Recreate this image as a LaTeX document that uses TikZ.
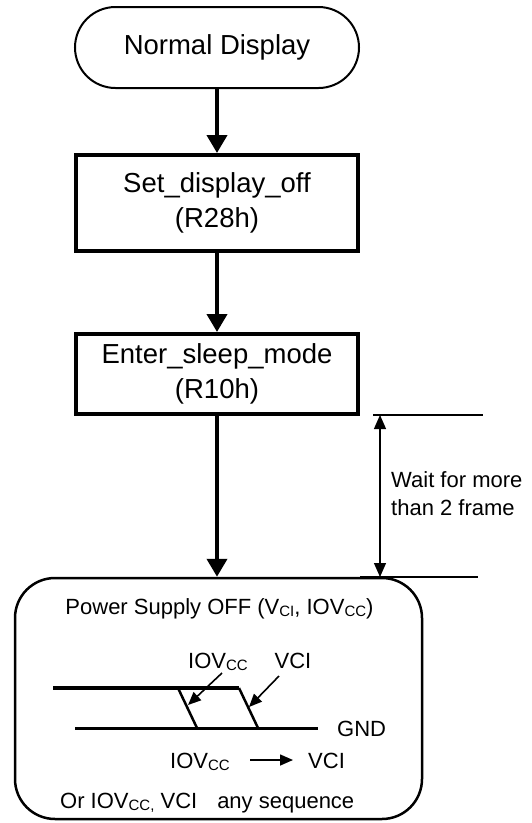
\documentclass[tikz,border=0pt]{standalone}
\usepackage{fontspec}
\setmainfont{Liberation Sans}
\usetikzlibrary{arrows.meta}
\newcommand{\subsc}[1]{\raisebox{-0.25ex}{\fontsize{15}{15}\selectfont #1}}
\begin{document}
\begin{tikzpicture}[x=1pt,y=-1pt,
  big/.style={font=\fontsize{27.5}{35}\selectfont},
  small/.style={font=\fontsize{22}{28}\selectfont},
  term/.style={draw,line width=2pt,rounded corners=40.5pt,minimum width=284pt,minimum height=81pt,inner sep=0pt,big},
  procbox/.style={draw,line width=4pt,minimum width=282pt,inner sep=0pt,align=center,big},
  psbox/.style={draw,line width=2.5pt,rounded corners=40pt,minimum width=407pt,minimum height=241pt,inner sep=0pt},
  flow/.style={line width=4pt,-{Triangle[width=20pt,length=18pt]}},
  dimln/.style={line width=1.2pt},
  dimarr/.style={line width=1.2pt,{Triangle[width=12pt,length=14pt]}-{Triangle[width=12pt,length=14pt]}},
  ptr/.style={line width=1.6pt,-{Triangle[width=11pt,length=13pt]}},
  lbl/.style={inner sep=0pt,small},
  wavehi/.style={line width=3.3pt},
  wavegnd/.style={line width=3pt},
  waveedge/.style={line width=2.5pt},
]
\useasboundingbox (0,0) rectangle (531,823);

% flow nodes
\node[term] (nd) at (217,47.5) {Normal Display};
\node[procbox,minimum height=96pt] (b1) at (217,203) {Set\_display\_off\\(R28h)};
\node[procbox,minimum height=80pt] (b2) at (217,374) {Enter\_sleep\_mode\\(R10h)};
\node[psbox] (ps) at (218.5,698.5) {};

\draw[flow] (nd.south) -- (b1.north);
\draw[flow] (b1.south) -- (b2.north);
\draw[flow] (b2.south) -- (b2.south |- ps.north);

% dimension
\coordinate (dtl) at (373,415);
\coordinate (dtr) at (483,415);
\coordinate (dbl) at (360,577);
\coordinate (dbr) at (478,577);
\coordinate (dtop) at (380,415);
\coordinate (dbot) at (380,577);
\draw[dimln] (dtl) -- (dtr);
\draw[dimln] (dbl) -- (dbr);
\draw[dimarr] (dtop) -- (dbot);
\node[lbl,anchor=west,align=left] (wait) at (391,494) {Wait for more\\than 2 frame};

% inside power supply box
\node[lbl,anchor=base] (pstitle) at (219.5,614) {Power Supply OFF (V\subsc{CI}, IOV\subsc{CC})};
\node[lbl,anchor=base] (iovlbl) at (218,668) {IOV\subsc{CC}};
\node[lbl,anchor=base] (vcilbl) at (293,668) {VCI};

\coordinate (hiL) at (53,688);
\coordinate (hiR) at (239,688);
\coordinate (hiM) at (178,688);
\coordinate (loR) at (258,728);
\coordinate (loM) at (197,728);
\coordinate (gL) at (75,728);
\coordinate (gR) at (318,728);
\draw[wavehi] (hiL) -- (hiR);
\draw[waveedge] (hiR) -- (loR);
\draw[waveedge] (hiM) -- (loM);
\draw[wavegnd] (gL) -- (gR);
\node[lbl,anchor=base west] (gnd) at (337,736) {GND};

\coordinate (p1s) at (222,673);
\coordinate (p1e) at (188,705);
\coordinate (p2s) at (279,676);
\coordinate (p2e) at (249,707);
\draw[ptr] (p1s) -- (p1e);
\draw[ptr] (p2s) -- (p2e);

\node[lbl,anchor=base west] (seqa) at (170,768) {IOV\subsc{CC}};
\node[lbl,anchor=base west] (seqb) at (308,768) {VCI};
\coordinate (sqs) at (250,760);
\coordinate (sqe) at (293,760);
\draw[ptr] (sqs) -- (sqe);

\node[lbl,anchor=base west] (anyseq) at (60,808) {Or IOV\subsc{CC,} VCI\hspace{20pt}any sequence};
\end{tikzpicture}
\end{document}
